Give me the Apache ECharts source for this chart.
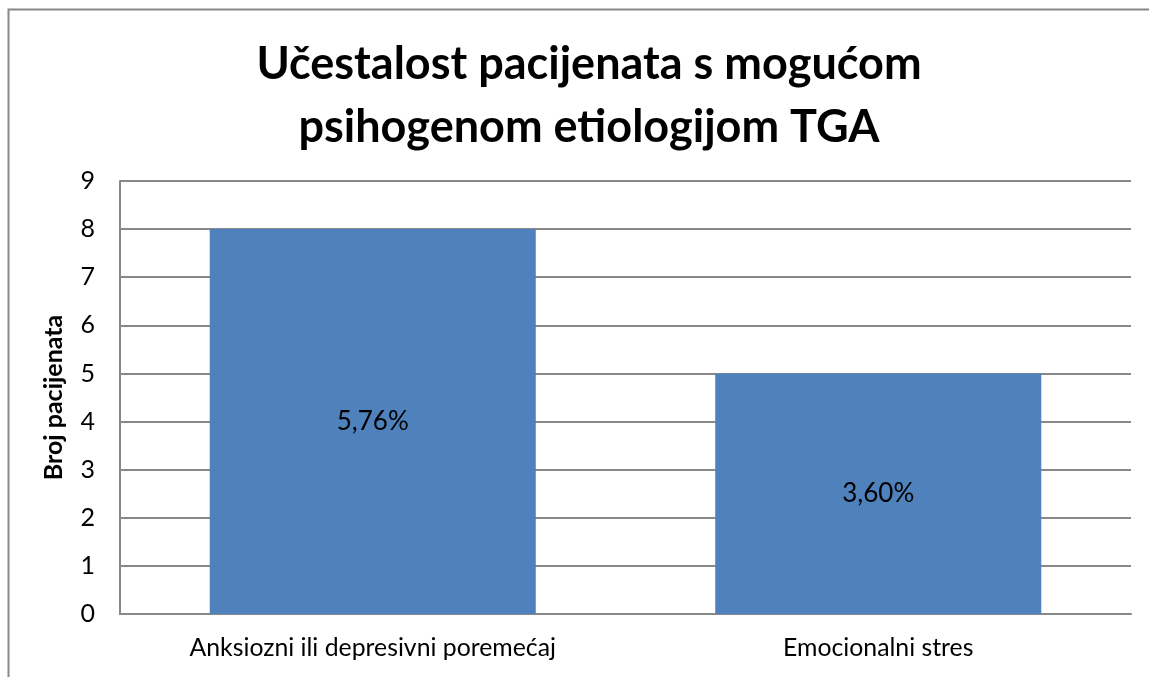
<!DOCTYPE html>
<html>
<head>
<meta charset="utf-8">
<script src="https://cdn.jsdelivr.net/npm/echarts@6/dist/echarts.min.js"></script>
<style>
  html, body { margin: 0; padding: 0; background: #fff; }
  #chart { width: 1149px; height: 677px; }
</style>
</head>
<body>
<div id="chart"></div>
<script>
// data
var categories = ['Anksiozni ili depresivni poremećaj', 'Emocionalni stres']
var counts = [8, 5]
var percentLabels = ['5,76%', '3,60%']

var chart = echarts.init(document.getElementById('chart'))

var option = {
  animation: false,
  backgroundColor: '#fff',
  title: {
    text: 'Učestalost pacijenata s mogućom\npsihogenom etiologijom TGA',
    left: 584,
    textAlign: 'center',
    top: 28,
    textStyle: {
      fontFamily: 'Lato',
      fontWeight: 'bold',
      fontSize: 45,
      lineHeight: 63,
      color: '#000'
    }
  },
  graphic: [
    {
      type: 'rect',
      shape: { x: 8.5, y: 9.5, width: 1160, height: 700 },
      style: { fill: null, stroke: '#888', lineWidth: 2 },
      silent: true
    }
  ],
  grid: {
    top: 181,
    left: 120,
    right: 18,
    bottom: 63
  },
  xAxis: {
    type: 'category',
    data: categories,
    axisLine: { show: true, lineStyle: { color: '#888', width: 2 } },
    axisTick: { show: false },
    axisLabel: {
      fontFamily: 'Lato',
      fontSize: 24.8,
      color: '#000',
      margin: 22
    }
  },
  yAxis: {
    type: 'value',
    min: 0,
    max: 9,
    interval: 1,
    name: 'Broj pacijenata',
    nameLocation: 'middle',
    nameGap: 54,
    nameTextStyle: {
      fontFamily: 'Lato',
      fontWeight: 'bold',
      fontSize: 25,
      color: '#000'
    },
    axisLine: { show: true, lineStyle: { color: '#888', width: 2 } },
    axisTick: { show: false },
    axisLabel: {
      fontFamily: 'Lato',
      fontSize: 25,
      color: '#000',
      margin: 25
    },
    splitLine: { lineStyle: { color: '#888', width: 2 } }
  },
  series: [
    {
      name: 'count',
      type: 'bar',
      data: counts,
      barWidth: '64.5%',
      itemStyle: { color: '#4F81BD' },
      label: {
        show: true,
        position: 'inside',
        fontFamily: 'Lato',
        fontSize: 26,
        color: '#000',
        formatter: function(p) {
          return percentLabels[p.dataIndex]
        }
      }
    }
  ]
}

chart.setOption(option)
</script>
</body>
</html>
